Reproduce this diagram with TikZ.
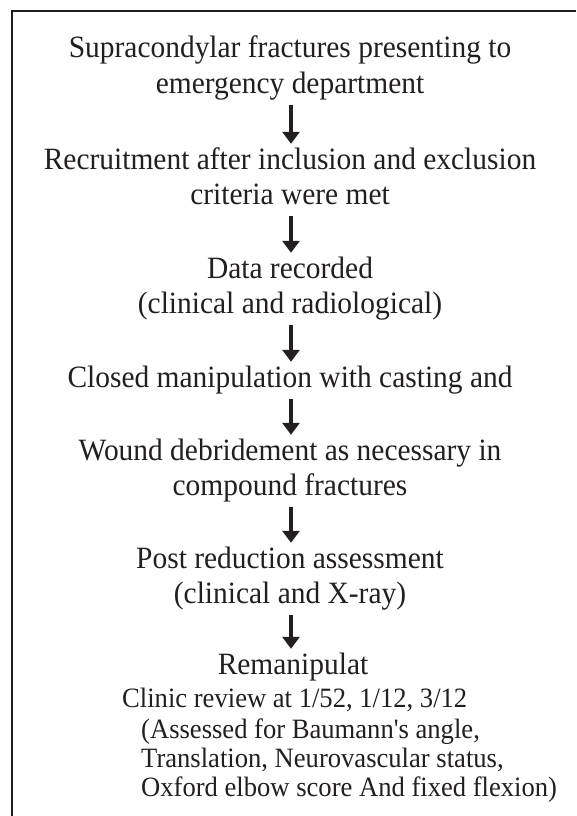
\documentclass[tikz,border=0pt]{standalone}
\usepackage{fontspec}
\setmainfont{Liberation Serif}[FakeStretch=0.95]
\newfontfamily\rawserif{Liberation Serif}[FakeStretch=0.95]
\usetikzlibrary{arrows.meta}
\definecolor{ink}{RGB}{35,31,32}
\begin{document}
\begin{tikzpicture}[x=1pt,y=-1pt,
  mainline/.style={anchor=base,inner sep=0pt,text height=20pt,text depth=7pt,
    font=\fontsize{31}{35}\selectfont,text=ink},
  smallline/.style={anchor=base west,inner sep=0pt,text height=18pt,text depth=6pt,
    font=\fontsize{28}{31}\selectfont,text=ink},
  flowarrow/.style={draw=ink,line width=4pt,
    -{Triangle[width=17pt,length=12pt]},shorten <=5pt,shorten >=5pt}]
\useasboundingbox (0,0) rectangle (576,816);
\fill[white] (0,0) rectangle (576,816);
\coordinate (frameTR) at (576,11);
\coordinate (frameTL) at (12,11);
\coordinate (frameBL) at (12,816);
\draw[ink,line width=2pt] (frameTR) -- (frameTL) -- (frameBL);

\node[mainline] (l1) at (290,58) {Supracondylar fractures presenting to};
\node[mainline] (l2) at (290,93) {emergency department};
\node[mainline] (l3) at (290,169) {Recruitment after inclusion and exclusion};
\node[mainline] (l4) at (290,204) {criteria were met};
\node[mainline] (l5) at (290,278) {Data recorded};
\node[mainline] (l6) at (290,313) {(clinical and radiological)};
\node[mainline] (l7) at (290,387) {Closed manipulation with casting and};
\node[mainline] (l8) at (290,460) {Wound debridement as necessary in};
\node[mainline] (l9) at (290,495) {compound fractures};
\node[mainline] (l10) at (290,568) {Post reduction assessment};
\node[mainline] (l11) at (290,603) {(clinical and X-ray)};
\node[mainline] (l12) at (293,674) {Remanipulat};
\node[smallline] (l13) at (122,707) {Clinic review at 1/52, 1/12, 3/12};
\node[smallline] (l14) at (141,738) {(Assessed for Baumann{\rawserif'}s angle,};
\node[smallline] (l15) at (141,767) {Translation, Neurovascular status,};
\node[smallline] (l16) at (141,796) {Oxford elbow score And fixed flexion)};

\draw[flowarrow] (l2.south -| 291,0) -- (l3.north -| 291,0);
\draw[flowarrow] (l4.south -| 291,0) -- (l5.north -| 291,0);
\draw[flowarrow] (l6.south -| 291,0) -- (l7.north -| 291,0);
\draw[flowarrow] (l7.south -| 291,0) -- (l8.north -| 291,0);
\draw[flowarrow] (l9.south -| 291,0) -- (l10.north -| 291,0);
\draw[flowarrow] (l11.south -| 291,0) -- (l12.north -| 291,0);
\end{tikzpicture}
\end{document}
